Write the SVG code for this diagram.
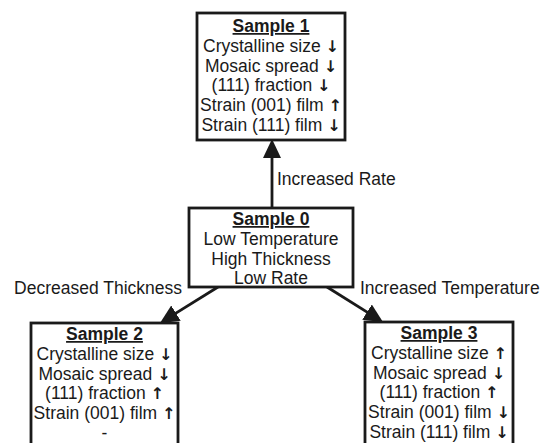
<svg xmlns="http://www.w3.org/2000/svg" width="543" height="443" viewBox="0 0 543 443">
  <style>
    .box { fill: #ffffff; stroke: #1a1a1a; stroke-width: 2.8; }
    .t { font-family: "Liberation Sans", Arial, sans-serif; font-size: 17.5px; fill: #1a1a1a; text-anchor: middle; }
    .title { font-weight: bold; text-decoration: underline; }
    .ar { font-family: "DejaVu Sans", sans-serif; font-size: 16px; fill: #1a1a1a; font-weight: bold; }
    .lbl { font-family: "Liberation Sans", Arial, sans-serif; font-size: 17.5px; fill: #1a1a1a; }
    .edge { stroke: #1a1a1a; stroke-width: 2.8; fill: none; marker-end: url(#head); }
  </style>
  <defs>
    <marker id="head" viewBox="0 0 19 18" refX="10" refY="9" markerWidth="19" markerHeight="18" markerUnits="userSpaceOnUse" orient="auto">
      <path d="M0,0 L19,9 L0,18 Z" fill="#1a1a1a"/>
    </marker>
  </defs>

  <rect width="543" height="443" fill="#ffffff"/>

  <g id="connectors">
    <line class="edge" x1="272" y1="208" x2="272" y2="148"/>
    <line class="edge" x1="218" y1="287" x2="167.5" y2="318.4"/>
    <line class="edge" x1="327" y1="287" x2="375.5" y2="317.4"/>
    <text class="lbl" x="277" y="185">Increased Rate</text>
    <text class="lbl" x="182" y="294" text-anchor="end">Decreased Thickness</text>
    <text class="lbl" x="360" y="294">Increased Temperature</text>
  </g>

  <g id="sample1">
    <rect class="box" x="197" y="13" width="148" height="127"/>
    <text class="t title" x="271" y="32">Sample 1</text>
    <text class="t" x="271" y="51.8">Crystalline size <tspan class="ar">↓</tspan></text>
    <text class="t" x="271" y="71.6">Mosaic spread <tspan class="ar">↓</tspan></text>
    <text class="t" x="271" y="91.4">(111) fraction <tspan class="ar">↓</tspan></text>
    <text class="t" x="271" y="111.2">Strain (001) film <tspan class="ar">↑</tspan></text>
    <text class="t" x="271" y="131">Strain (111) film <tspan class="ar">↓</tspan></text>
  </g>

  <g id="sample0">
    <rect class="box" x="189" y="208" width="164" height="79"/>
    <text class="t title" x="271" y="225">Sample 0</text>
    <text class="t" x="271" y="245">Low Temperature</text>
    <text class="t" x="271" y="265">High Thickness</text>
    <text class="t" x="271" y="284">Low Rate</text>
  </g>

  <g id="sample2">
    <rect class="box" x="31" y="323" width="147" height="140"/>
    <text class="t title" x="104.5" y="340">Sample 2</text>
    <text class="t" x="104.5" y="359.8">Crystalline size <tspan class="ar">↓</tspan></text>
    <text class="t" x="104.5" y="379.6">Mosaic spread <tspan class="ar">↓</tspan></text>
    <text class="t" x="104.5" y="399.4">(111) fraction <tspan class="ar">↑</tspan></text>
    <text class="t" x="104.5" y="419.2">Strain (001) film <tspan class="ar">↑</tspan></text>
    <text class="t" x="104.5" y="439">-</text>
  </g>

  <g id="sample3">
    <rect class="box" x="365" y="322" width="148" height="140"/>
    <text class="t title" x="439" y="339">Sample 3</text>
    <text class="t" x="439" y="358.8">Crystalline size <tspan class="ar">↑</tspan></text>
    <text class="t" x="439" y="378.6">Mosaic spread <tspan class="ar">↓</tspan></text>
    <text class="t" x="439" y="398.4">(111) fraction <tspan class="ar">↑</tspan></text>
    <text class="t" x="439" y="418.2">Strain (001) film <tspan class="ar">↓</tspan></text>
    <text class="t" x="439" y="438">Strain (111) film <tspan class="ar">↓</tspan></text>
  </g>
</svg>
